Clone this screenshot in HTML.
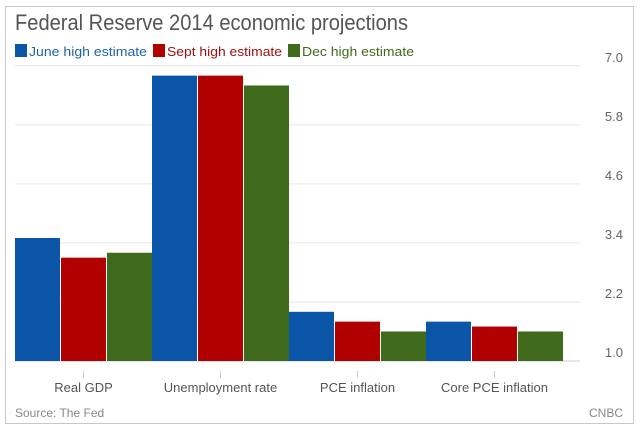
<!DOCTYPE html>
<html><head><meta charset="utf-8"><style>
html,body{margin:0;padding:0;background:#fff;}
body{width:640px;height:429px;overflow:hidden;font-family:"Liberation Sans",sans-serif;}
</style></head><body>
<svg width="640" height="429" xmlns="http://www.w3.org/2000/svg" id="chart">
<rect x="5.5" y="6.5" width="628" height="417" fill="#fff" stroke="#c8c8c8"/>
<text x="15" y="30" font-size="22" fill="#555" textLength="393" lengthAdjust="spacingAndGlyphs">Federal Reserve 2014 economic projections</text>
<g>
<rect x="15" y="44" width="12" height="13" fill="#0a55a8"/>
<text x="29" y="56" font-size="13" fill="#1f63a8" textLength="118" lengthAdjust="spacingAndGlyphs">June high estimate</text>
<rect x="153" y="44" width="12" height="13" fill="#b00000"/>
<text x="167" y="56" font-size="13" fill="#a01010" textLength="115" lengthAdjust="spacingAndGlyphs">Sept high estimate</text>
<rect x="288" y="44" width="12" height="13" fill="#3f6a1c"/>
<text x="302" y="56" font-size="13" fill="#3f6a1c" textLength="112" lengthAdjust="spacingAndGlyphs">Dec high estimate</text>
</g>
<g id="grid"></g><g id="bars"></g><g id="xaxis"></g>
<text x="15" y="417" font-size="12" fill="#888">Source: The Fed</text>
<text x="623" y="417" font-size="12" fill="#888" text-anchor="end">CNBC</text>
</svg>
<script>
const categories=["Real GDP","Unemployment rate","PCE inflation","Core PCE inflation"];
const juneValues=[3.5,6.8,2.0,1.8];
const septValues=[3.1,6.8,1.8,1.7];
const decValues=[3.2,6.6,1.6,1.6];
const yTicks=[1.0,2.2,3.4,4.6,5.8,7.0];
const yTickLabels=["1.0","2.2","3.4","4.6","5.8","7.0"];
const NS="http://www.w3.org/2000/svg";
const x0=15,groupW=137,barW=45,yBase=361,pxPerUnit=49.2;
function y(v){return yBase-(v-1.0)*pxPerUnit;}
function mk(tag,attrs,parent){const e=document.createElementNS(NS,tag);for(const k in attrs)e.setAttribute(k,attrs[k]);parent.appendChild(e);return e;}
const grid=document.getElementById('grid'),bars=document.getElementById('bars'),xa=document.getElementById('xaxis');
yTicks.forEach((t,i)=>{
  const l=mk('line',{x1:15,x2:580,y1:y(t),y2:y(t),stroke:i===0?'#cfcfcf':'#e6e6e6','stroke-width':1},grid);
  
  
  const tx=mk('text',{x:623,y:y(t)-4,'font-size':13,fill:'#666','text-anchor':'end'},grid);
  tx.textContent=yTickLabels[i];
  
  
});
const series=[[juneValues,'#0a55a8','june'],[septValues,'#b00000','sept'],[decValues,'#3f6a1c','dec']];
categories.forEach((c,ci)=>{
  const gx=x0+ci*groupW;
  series.forEach((s,si)=>{
    const v=s[0][ci];
    const r=mk('rect',{x:gx+si*(barW+1),y:y(v),width:barW,height:yBase-y(v),fill:s[1]},bars);
    
    
  });
  const cx=gx+groupW/2;
  const tk=mk('line',{x1:cx,x2:cx,y1:371,y2:378,stroke:'#ccc'},xa);
  
  
  const lb=mk('text',{x:cx,y:392,'font-size':13,fill:'#555','text-anchor':'middle'},xa);
  lb.textContent=c;
  
  
});
</script>
</body></html>
